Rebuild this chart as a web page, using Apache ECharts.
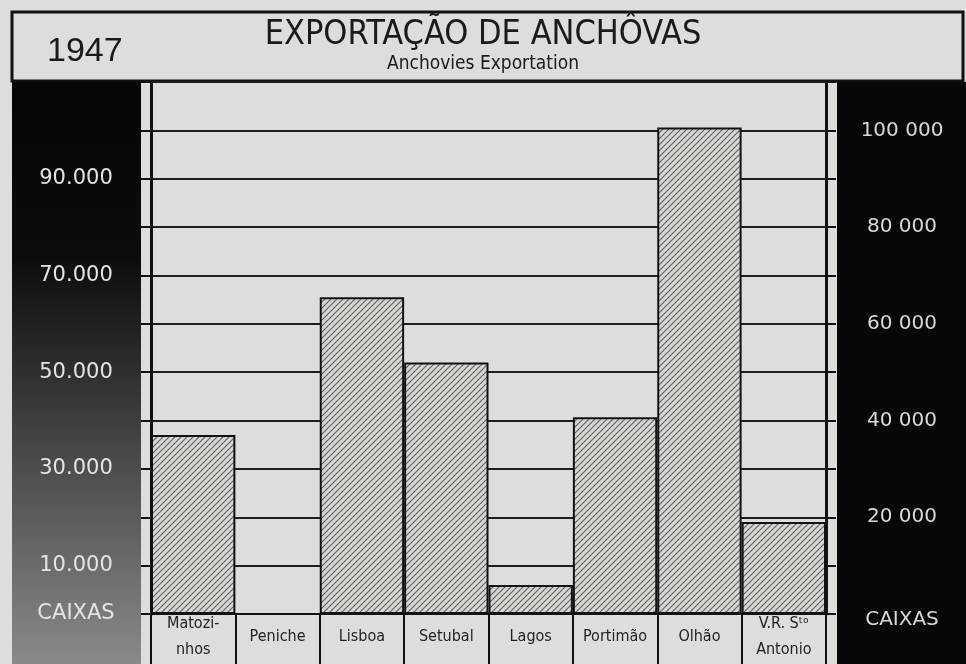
<!DOCTYPE html>
<html>
<head>
<meta charset="utf-8">
<script src="https://cdn.jsdelivr.net/npm/echarts@6/dist/echarts.min.js"></script>
<style>
  html, body { margin: 0; padding: 0; background: #dcdfd9; }
  #chart { width: 966px; height: 664px; }
</style>
</head>
<body>
<div id="chart"></div>
<script>
// dados (caixas exportadas em 1947)
const categories = ['Matozi-\nnhos', 'Peniche', 'Lisboa', 'Setubal', 'Lagos', 'Portimão', 'Olhão', 'V.R. Sᵗᵒ\nAntonio'];
const caixas = [37000, 0, 65500, 52000, 6000, 40700, 100600, 19000];

// escalas dos dois lados
const leftTicks = [10000, 30000, 50000, 70000, 90000];
const leftTickLabels = ['10.000', '30.000', '50.000', '70.000', '90.000'];
const rightTicks = [20000, 40000, 60000, 80000, 100000];
const rightTickLabels = ['20 000', '40 000', '60 000', '80 000', '100 000'];
const unitLabel = 'CAIXAS';

// tracejado das barras
function makeHatch() {
  const c = document.createElement('canvas');
  c.width = 6;
  c.height = 6;
  const g = c.getContext('2d');
  g.fillStyle = '#d5d8d2';
  g.fillRect(0, 0, 6, 6);
  g.strokeStyle = '#62665f';
  g.lineWidth = 1.2;
  g.beginPath();
  g.moveTo(0, 6); g.lineTo(6, 0);
  g.moveTo(-1, 1); g.lineTo(1, -1);
  g.moveTo(5, 7); g.lineTo(7, 5);
  g.stroke();
  return c;
}

const chart = echarts.init(document.getElementById('chart'));

const option = {
  backgroundColor: '#dcdfd9',
  animation: false,
  title: [
    {
      text: 'EXPORTAÇÃO DE ANCHÔVAS',
      subtext: 'Anchovies Exportation',
      left: 'center',
      top: 13,
      itemGap: 3,
      textStyle: {
        fontFamily: 'DejaVu Sans Condensed',
        fontWeight: 'normal',
        fontSize: 34,
        color: '#1a1a1a'
      },
      subtextStyle: {
        fontFamily: 'DejaVu Sans Condensed',
        fontSize: 19,
        color: '#1a1a1a'
      }
    },
    {
      text: '1947',
      left: 42,
      top: 30,
      textStyle: {
        fontFamily: 'Liberation Sans',
        fontWeight: 'normal',
        fontSize: 34,
        color: '#1a1a1a'
      }
    }
  ],
  graphic: [
    {
      type: 'rect',
      z: -1,
      shape: { x: 12, y: 12, width: 951, height: 69 },
      style: { fill: '#dcdfd9', stroke: '#111', lineWidth: 3 }
    },
    {
      type: 'rect',
      z: -1,
      shape: { x: 12, y: 82, width: 129, height: 582 },
      style: {
        fill: new echarts.graphic.LinearGradient(0, 0, 0, 1, [
          { offset: 0, color: '#050505' },
          { offset: 0.3, color: '#0c0c0c' },
          { offset: 0.65, color: '#4a4a48' },
          { offset: 1, color: '#8a8a88' }
        ])
      }
    },
    {
      type: 'rect',
      z: -1,
      shape: { x: 837, y: 82, width: 129, height: 582 },
      style: { fill: '#070707' }
    }
  ],
  grid: {
    left: 151,
    right: 140,
    top: 82,
    bottom: 50
  },
  xAxis: {
    type: 'category',
    data: categories,
    axisLine: { lineStyle: { color: '#111', width: 2 } },
    axisTick: { show: true, length: 50, lineStyle: { color: '#111', width: 2 } },
    axisLabel: {
      interval: 0,
      margin: 23,
      verticalAlign: 'middle',
      lineHeight: 26,
      fontFamily: 'DejaVu Sans Condensed',
      fontSize: 16,
      color: '#222'
    }
  },
  yAxis: [
    {
      type: 'value',
      position: 'left',
      min: 0,
      max: 110000,
      interval: 10000,
      axisLine: { show: true, lineStyle: { color: '#111', width: 3 } },
      axisTick: { show: true, length: 10, lineStyle: { color: '#111', width: 2 } },
      splitLine: { show: true, lineStyle: { color: '#1e1e1e', width: 2 } },
      axisLabel: {
        margin: 75,
        align: 'center',
        fontFamily: 'DejaVu Sans',
        fontSize: 21,
        color: '#e4e4e2',
        formatter: function (v) {
          if (v === 0) return unitLabel;
          const i = leftTicks.indexOf(v);
          return i >= 0 ? leftTickLabels[i] : '';
        }
      }
    },
    {
      type: 'value',
      position: 'right',
      min: 0,
      max: 110000,
      interval: 10000,
      axisLine: { show: true, lineStyle: { color: '#111', width: 3 } },
      axisTick: { show: true, length: 10, lineStyle: { color: '#111', width: 2 } },
      splitLine: { show: false },
      axisLabel: {
        margin: 76,
        align: 'center',
        fontFamily: 'DejaVu Sans',
        fontSize: 20,
        color: '#d8d8d6',
        formatter: function (v) {
          if (v === 0) return '{u|' + unitLabel + '}';
          const i = rightTicks.indexOf(v);
          return i >= 0 ? rightTickLabels[i] : '';
        },
        rich: {
          u: { fontFamily: 'DejaVu Sans', fontSize: 20, color: '#d8d8d6', padding: [12, 0, 0, 0] }
        }
      }
    }
  ],
  series: [
    {
      type: 'bar',
      data: caixas,
      barCategoryGap: '0%',
      itemStyle: {
        color: { image: makeHatch(), repeat: 'repeat' },
        borderColor: '#111',
        borderWidth: 2
      }
    }
  ]
};

chart.setOption(option);
</script>
</body>
</html>
